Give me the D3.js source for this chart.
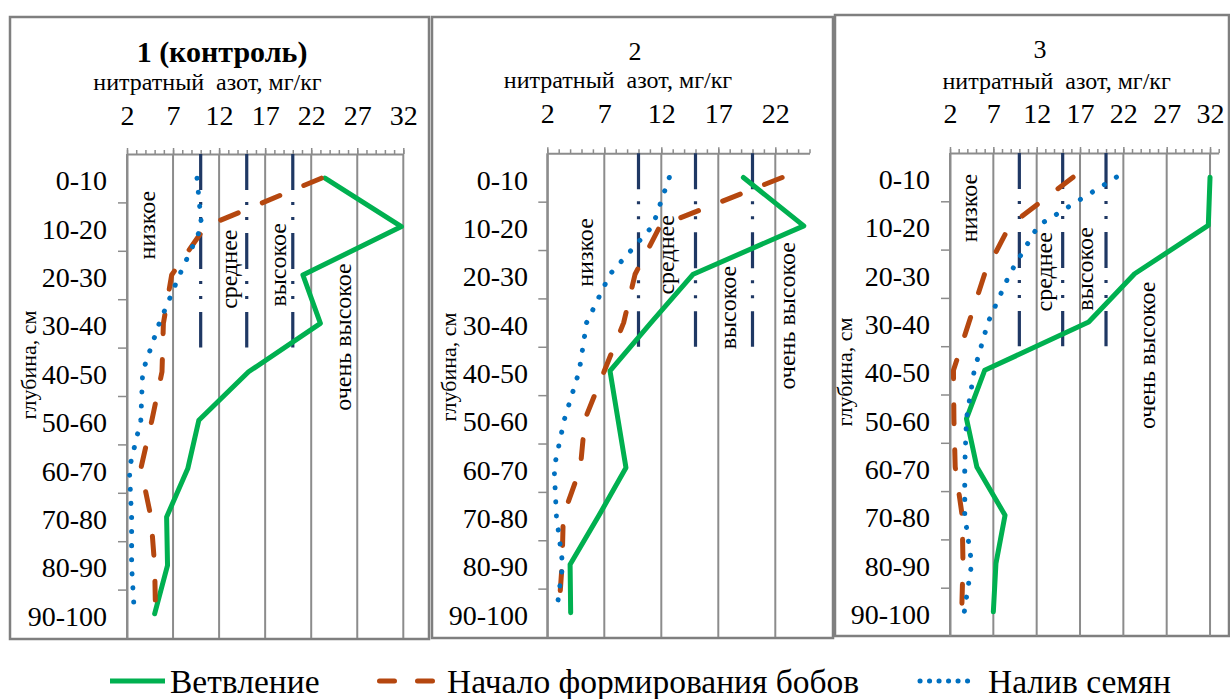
<!DOCTYPE html>
<html><head><meta charset="utf-8">
<script src="https://cdn.jsdelivr.net/npm/d3@7"></script>
<style>
body{margin:0;background:#fff}
svg text{font-family:"Liberation Serif","Times New Roman",Tinos,"DejaVu Serif","Noto Serif",serif;fill:#000}
</style></head><body>
<svg id="c" width="1230" height="699"></svg>
<script>
// ---------- data ----------
const depths = ["0-10","10-20","20-30","30-40","40-50","50-60","60-70","70-80","80-90","90-100"];
const seriesNames = ["Ветвление","Начало формирования бобов","Налив семян"];
const panelTitles = ["1 (контроль)","2","3"];
const axisTitle = "нитратный  азот, мг/кг";
const depthTitle = "глубина, см";
const levelNames = ["низкое","среднее","высокое","очень высокое"];
const thresholds = [10,15,20];
const thresholdDepth = [0,40];
const xTicks1 = [2,7,12,17,22,27,32];
const xTicks2 = [2,7,12,17,22];
const xTicks3 = [2,7,12,17,22,27,32];
const xMax = [32,25,33];

// panel 1 (контроль)
const branching1 = [23.5,31.8,21.1,23.0,15.2,9.8,8.6,6.3,6.4,5.0];
const pods1      = [23.1,10.5,6.85,5.95,5.8,4.7,3.5,4.6,5.0,5.1];
const seeds1     = [9.6,10.1,7.7,5.5,3.7,3.5,2.25,2.5,2.5,2.8];
// panel 2
const branching2 = [19.2,24.5,14.8,11.1,7.5,8.2,8.9,6.5,4.0,4.05];
const pods2      = [22.6,11.9,9.7,8.7,7.0,5.3,4.9,3.4,3.3,3.0];
const seeds2     = [12.7,11.25,7.5,5.45,4.8,3.5,2.6,2.8,3.35,2.8];
// panel 3
const branching3 = [32.0,31.8,23.3,18.0,6.0,3.9,5.1,8.35,7.3,7.0];
const pods3      = [16.2,8.9,6.0,4.2,2.4,2.45,2.6,3.4,3.5,3.35];
const seeds3     = [21.2,12.2,8.9,6.4,4.8,3.9,3.7,3.7,4.5,3.65];

// ---------- layout & styles ----------
const FONT = '"Liberation Serif","Times New Roman",Tinos,"DejaVu Serif","Noto Serif",serif';
const styles = [
  {color:"#00b050", width:5, dash:null, cap:"round"},
  {color:"#b5470f", width:5, dash:"19,26", cap:"round"},
  {color:"#0070c0", width:5, dash:"0.1,14", cap:"round"}
];
const panels = [
  {frame:[10,17,429,639], plot:[127,403.3,154,638], title:[222,62], titleBold:true, titleSize:30,
   axisTitle:[207.5,90], tickBase:125, catRight:107, yTitle:[36,365],
   xTicks:xTicks1, max:xMax[0], series:[branching1,pods1,seeds1],
   levelPos:[[5.0,14.7],[13.9,23.8],[19.3,22.9],[26.3,37.8]]},
  {frame:[432,17,833,638], plot:[547.3,809.5,153.3,637], title:[635,60], titleBold:false, titleSize:26,
   axisTitle:[618,88], tickBase:123, catRight:528, yTitle:[456,367],
   xTicks:xTicks2, max:xMax[1], series:[branching2,pods2,seeds2],
   levelPos:[[6.0,20.5],[13.1,21.0],[18.55,31.9],[23.7,33.6]]},
  {frame:[835,15,1229,636], plot:[950,1218.7,153,636], title:[1040,58], titleBold:false, titleSize:26,
   axisTitle:[1056.7,89], tickBase:123, catRight:930, yTitle:[852,372],
   xTicks:xTicks3, max:xMax[2], series:[branching3,pods3,seeds3],
   levelPos:[[5.1,11.4],[13.8,24.6],[18.5,24.0],[25.6,41.9]]}
];
const gridColor = "#8c8c8c";
const navy = "#1f3864";

const svg = d3.select("#c");

panels.forEach((p,pi) => {
  const g = svg.append("g");
  const [L,R,T,B] = p.plot;
  const x = d3.scaleLinear().domain([2,p.max]).range([L,R]);
  const yb = d3.scaleBand().domain(depths).range([T,B]);
  const yd = d3.scaleLinear().domain([0,100]).range([T,B]);

  g.append("rect").attr("x",p.frame[0]).attr("y",p.frame[1])
    .attr("width",p.frame[2]-p.frame[0]).attr("height",p.frame[3]-p.frame[1])
    .attr("fill","none").attr("stroke","#7f7f7f").attr("stroke-width",2.5);

  g.selectAll(".grid").data(p.xTicks).join("line")
    .attr("x1",d=>x(d)).attr("x2",d=>x(d)).attr("y1",T).attr("y2",B)
    .attr("stroke",gridColor).attr("stroke-width",2);

  const minor = g.append("g").attr("transform",`translate(0,${T})`)
    .call(d3.axisTop(x).tickValues(d3.range(2,p.max+0.001,1)).tickSize(4).tickSizeOuter(0).tickFormat(""));
  minor.select(".domain").attr("stroke",gridColor).attr("stroke-width",2);
  minor.selectAll(".tick line").attr("stroke",gridColor).attr("stroke-width",1.5);
  const major = g.append("g").attr("transform",`translate(0,${T})`)
    .call(d3.axisTop(x).tickValues(p.xTicks).tickSize(6).tickSizeOuter(0).tickPadding(T-p.tickBase-6));
  major.attr("font-family",FONT);
  major.select(".domain").remove();
  major.selectAll(".tick line").attr("stroke",gridColor).attr("stroke-width",1.5);
  major.selectAll(".tick text").attr("font-size",28).attr("fill","#000");

  const yt = g.append("g").attr("transform",`translate(${L},0)`)
    .call(d3.axisLeft(yd).tickValues(d3.range(10,100,10)).tickSize(9).tickSizeOuter(0).tickFormat(""));
  yt.select(".domain").attr("stroke",gridColor).attr("stroke-width",2);
  yt.selectAll(".tick line").attr("stroke",gridColor).attr("stroke-width",1.5);
  const yl = g.append("g").attr("transform",`translate(${L},0)`)
    .call(d3.axisLeft(yb).tickSize(0).tickPadding(L-p.catRight));
  yl.attr("font-family",FONT);
  yl.select(".domain").remove();
  yl.selectAll(".tick text").attr("font-size",28).attr("fill","#000").attr("dy","0.43em");

  const tl = d3.line().x(d=>x(d[0])).y(d=>yd(d[1]));
  thresholds.forEach(t => {
    g.append("path").attr("d",tl(thresholdDepth.map(dp=>[t,dp])))
      .attr("stroke",navy).attr("stroke-width",3.2).attr("fill","none")
      .attr("stroke-dasharray","36,12,3,12,3,13");
  });

  levelNames.forEach((name,i) => {
    const [v,dp] = p.levelPos[i];
    g.append("text").attr("transform",`translate(${x(v)},${yd(dp)}) rotate(-90)`)
      .attr("text-anchor","middle").attr("font-size",24).attr("font-family",FONT).text(name);
  });

  const line = d3.line().x(d=>x(d.v)).y(d=>yb(d.c)+yb.bandwidth()/2);
  p.series.forEach((vals,si) => {
    const st = styles[si];
    g.append("path").datum(vals.map((v,k)=>({v, c:depths[k]})))
      .attr("d",line).attr("fill","none").attr("stroke",st.color)
      .attr("stroke-width",st.width).attr("stroke-linecap",st.cap).attr("stroke-linejoin","round")
      .attr("stroke-dasharray",st.dash);
  });

  g.append("text").attr("x",p.title[0]).attr("y",p.title[1]).attr("text-anchor","middle")
    .attr("font-family",FONT).attr("font-size",p.titleSize)
    .attr("font-weight",p.titleBold?"bold":"normal").text(panelTitles[pi]);
  g.append("text").attr("x",p.axisTitle[0]).attr("y",p.axisTitle[1]).attr("text-anchor","middle")
    .attr("font-family",FONT).attr("font-size",24).style("white-space","pre").text(axisTitle);
  g.append("text").attr("transform",`translate(${p.yTitle[0]},${p.yTitle[1]}) rotate(-90)`)
    .attr("font-family",FONT).attr("text-anchor","middle").attr("font-size",22).text(depthTitle);
});

const legendPos = [[110,165,170],[379.5,432.5,447],[920,975,988]];
const legendDash = [null,"15,23","0.1,9.4"];
seriesNames.forEach((name,i) => {
  const [a,b,tx] = legendPos[i];
  const st = styles[i];
  svg.append("line").attr("x1",a).attr("x2",b).attr("y1",681).attr("y2",681)
    .attr("stroke",st.color).attr("stroke-width",st.width).attr("stroke-linecap",i===0?"butt":"round")
    .attr("stroke-dasharray",legendDash[i]);
  svg.append("text").attr("x",tx).attr("y",693).attr("font-family",FONT).attr("font-size",33.5).text(name);
});
</script>
</body></html>
